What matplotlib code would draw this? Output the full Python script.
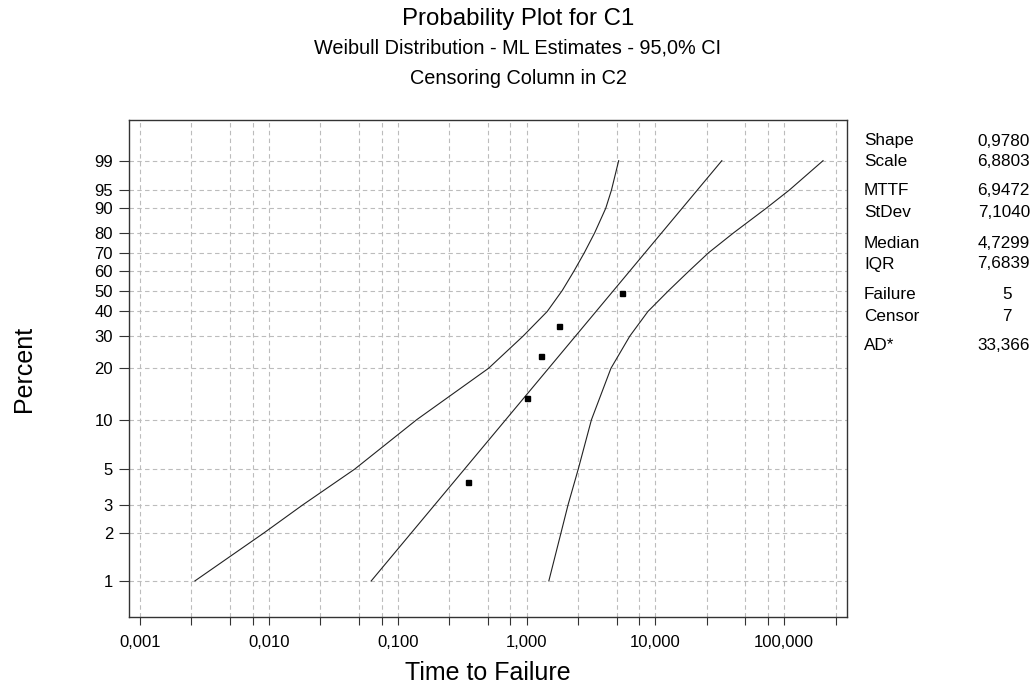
import numpy as np
import matplotlib
matplotlib.use("Agg")
import matplotlib.pyplot as plt
from matplotlib.ticker import FixedLocator, NullFormatter

plt.rcParams['font.family'] = ['Liberation Sans', 'DejaVu Sans']

# ---- data ----
shape = 0.9780
scale = 6.8803
stats_labels = ["Shape", "Scale", "MTTF", "StDev", "Median", "IQR", "Failure", "Censor", "AD*"]
stats_values = ["0,9780", "6,8803", "6,9472", "7,1040", "4,7299", "7,6839", "5", "7", "33,366"]

fail_time = [0.353, 1.0, 1.29, 1.79, 5.48]
fail_pct = [4.16, 13.4, 23.5, 33.9, 48.8]

pct_levels = [1, 2, 3, 5, 10, 20, 30, 40, 50, 60, 70, 80, 90, 95, 99]
lower_ci = [0.00267, 0.00914, 0.01835, 0.0464, 0.1403, 0.5075, 0.94, 1.447, 1.892,
            2.326, 2.81, 3.38, 4.12, 4.56, 5.19]
upper_ci = [1.49, 1.85, 2.10, 2.52, 3.19, 4.52, 6.33, 8.75, 12.68, 18.1, 25.9,
            40.5, 72.5, 109.3, 200.0]

fit_pct = [1, 99]

x_major = [0.001, 0.01, 0.1, 1, 10, 100]
x_labels = ["0,001", "0,010", "0,100", "1,000", "10,000", "100,000"]
y_ticks = [1, 2, 3, 5, 10, 20, 30, 40, 50, 60, 70, 80, 90, 95, 99]

# ---- figure ----
fig = plt.figure(figsize=(10.36, 6.87), dpi=100)
W, H = 1036, 687
ax = fig.add_axes([129 / W, 1 - 617 / H, (847 - 129) / W, (617 - 120) / H])


def fwd(p):
    p = np.clip(np.asarray(p, dtype=float), 1e-9, 100 - 1e-9)
    return np.log(-np.log(1 - p / 100.0))


def inv(w):
    return 100.0 * (1 - np.exp(-np.exp(np.asarray(w, dtype=float))))


ax.set_xscale('log')
ax.set_yscale('function', functions=(fwd, inv))
ax.set_xlim(0.000822, 307)
ax.set_ylim(0.592, 99.976)

# grid
x_minor = [m * d for d in [0.001, 0.01, 0.1, 1, 10, 100] for m in (2.5, 5, 7.5)]
ax.xaxis.set_major_locator(FixedLocator(x_major))
ax.xaxis.set_minor_locator(FixedLocator(x_minor))
ax.set_xticklabels(x_labels)
ax.xaxis.set_minor_formatter(NullFormatter())
ax.yaxis.set_major_locator(FixedLocator(y_ticks))
ax.yaxis.set_minor_locator(FixedLocator([]))
ax.set_yticklabels([str(t) for t in y_ticks])

grid_kw = dict(color='#bcbcbc', linestyle=(0, (4, 3)), linewidth=0.8)
ax.grid(True, which='major', axis='both', **grid_kw)
ax.grid(True, which='minor', axis='x', **grid_kw)
ax.set_axisbelow(True)

ax.tick_params(axis='x', which='both', direction='out', length=6, width=0.8,
               pad=7, labelsize=12, colors='#333333', labelcolor='black')
ax.tick_params(axis='y', which='both', direction='out', length=7.5, width=0.8,
               pad=4, labelsize=12, colors='#333333', labelcolor='black')
for s in ax.spines.values():
    s.set_color('#333333')
    s.set_linewidth(1.0)

# fitted line
fit_x = [scale * (-np.log(1 - p / 100.0)) ** (1.0 / shape) for p in fit_pct]
ax.plot(fit_x, fit_pct, color='#222222', linewidth=0.8)
# confidence bands
ax.plot(lower_ci, pct_levels, color='#222222', linewidth=0.8)
ax.plot(upper_ci, pct_levels, color='#222222', linewidth=0.8)
# failures
ax.plot(fail_time, fail_pct, linestyle='none', marker='s', markersize=3.6,
        color='black')

ax.set_xlabel("Time to Failure", fontsize=18, labelpad=8)
ax.set_ylabel("Percent", fontsize=18, labelpad=42)

# titles
fig.text(0.5, 1 - 19 / H, "Probability Plot for C1", ha='center', va='center',
         fontsize=17.3)
fig.text(0.5, 1 - 48 / H, "Weibull Distribution - ML Estimates - 95,0% CI",
         ha='center', va='center', fontsize=14.3)
fig.text(0.5, 1 - 79 / H, "Censoring Column in C2", ha='center', va='center',
         fontsize=14.3)

# stats panel
row_y = [141, 162, 191, 213, 243, 264, 295, 317, 346]
for lab, val, y in zip(stats_labels, stats_values, row_y):
    fig.text(864 / W, 1 - y / H, lab, ha='left', va='center', fontsize=12.3)
    if lab in ("Failure", "Censor"):
        fig.text(1007 / W, 1 - y / H, val, ha='center', va='center', fontsize=12.3)
    else:
        fig.text(1030 / W, 1 - y / H, val, ha='right', va='center', fontsize=12.3)

fig.savefig("out.png", dpi=100)
